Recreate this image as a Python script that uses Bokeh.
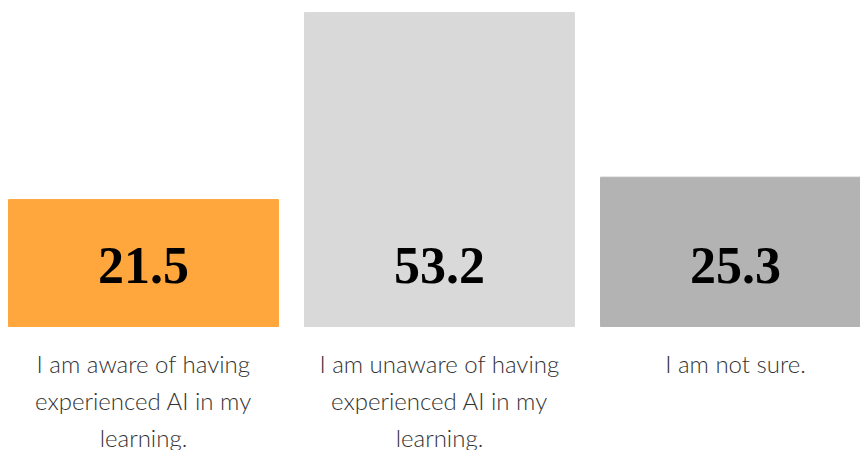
from bokeh.plotting import figure
from bokeh.models import ColumnDataSource, Range1d
from bokeh.core.properties import value
from bokeh.embed import file_html
from bokeh.resources import INLINE

categories = ["I am aware of having\nexperienced AI in my\nlearning.",
              "I am unaware of having\nexperienced AI in my\nlearning.",
              "I am not sure."]
values = [21.5, 53.2, 25.3]
colors = ["#FFA63D", "#D9D9D9", "#B3B3B3"]

idx = list(range(len(values)))
src = ColumnDataSource(dict(x=idx, top=values, color=colors,
                            label=[f"{v:.1f}" for v in values],
                            cat=categories))

p = figure(width=860, height=450, output_backend="svg", toolbar_location=None,
           x_range=Range1d(-0.4831, 2.4223), y_range=Range1d(-21.01, 55.24),
           min_border=0, outline_line_color=None)
p.axis.visible = False
p.grid.visible = False
p.background_fill_color = "white"
p.border_fill_color = "white"

p.vbar(x="x", top="top", bottom=0, width=0.912, color="color", source=src)

p.text(x="x", y=10.34, text="label", source=src, text_align="center",
       text_baseline="middle", text_font=value("Liberation Serif"),
       text_font_size="52px", text_font_style="bold", text_color="#000000")

p.text(x="x", y=-3.81, text="cat", source=src, text_align="center",
       text_baseline="top", text_font=value("Lato Light"),
       text_font_size="24px", text_color="#333333", text_line_height=1.28)

open("out.html", "w").write(file_html(p, INLINE))
